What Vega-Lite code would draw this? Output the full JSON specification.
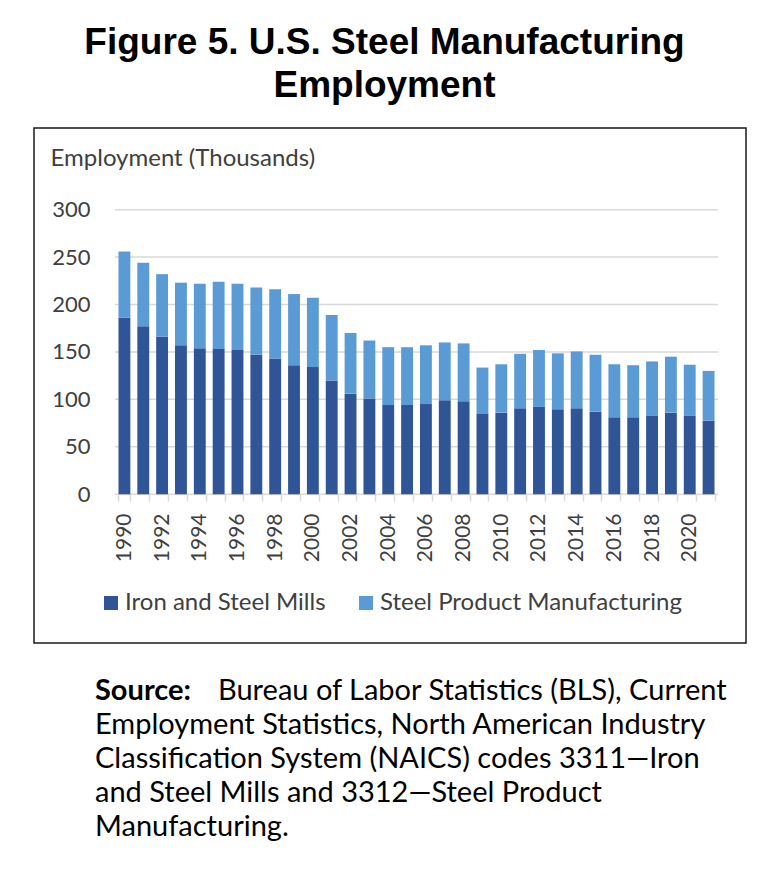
{
  "$schema": "https://vega.github.io/schema/vega-lite/v6.json",
  "padding": {"left": 22, "top": 24, "right": 10, "bottom": 10},
  "background": "white",
  "title": {"text": ["Figure 5. U.S. Steel Manufacturing", "Employment"], "font": "Liberation Sans", "fontSize": 37, "fontWeight": "bold", "color": "black", "lineHeight": 43, "anchor": "middle", "offset": 22},
  "config": {"view": {"stroke": null}, "font": "Lato"},
  "spacing": 30,
  "datasets": {
    "emp": [
      {"year": 1990, "series": "Iron and Steel Mills", "value": 186}, {"year": 1990, "series": "Steel Product Manufacturing", "value": 70},
      {"year": 1991, "series": "Iron and Steel Mills", "value": 177}, {"year": 1991, "series": "Steel Product Manufacturing", "value": 67},
      {"year": 1992, "series": "Iron and Steel Mills", "value": 166}, {"year": 1992, "series": "Steel Product Manufacturing", "value": 66},
      {"year": 1993, "series": "Iron and Steel Mills", "value": 157}, {"year": 1993, "series": "Steel Product Manufacturing", "value": 66},
      {"year": 1994, "series": "Iron and Steel Mills", "value": 154}, {"year": 1994, "series": "Steel Product Manufacturing", "value": 68},
      {"year": 1995, "series": "Iron and Steel Mills", "value": 153}, {"year": 1995, "series": "Steel Product Manufacturing", "value": 71},
      {"year": 1996, "series": "Iron and Steel Mills", "value": 152}, {"year": 1996, "series": "Steel Product Manufacturing", "value": 70},
      {"year": 1997, "series": "Iron and Steel Mills", "value": 147}, {"year": 1997, "series": "Steel Product Manufacturing", "value": 71},
      {"year": 1998, "series": "Iron and Steel Mills", "value": 143}, {"year": 1998, "series": "Steel Product Manufacturing", "value": 73},
      {"year": 1999, "series": "Iron and Steel Mills", "value": 136}, {"year": 1999, "series": "Steel Product Manufacturing", "value": 75},
      {"year": 2000, "series": "Iron and Steel Mills", "value": 134}, {"year": 2000, "series": "Steel Product Manufacturing", "value": 73},
      {"year": 2001, "series": "Iron and Steel Mills", "value": 120}, {"year": 2001, "series": "Steel Product Manufacturing", "value": 69},
      {"year": 2002, "series": "Iron and Steel Mills", "value": 106}, {"year": 2002, "series": "Steel Product Manufacturing", "value": 64},
      {"year": 2003, "series": "Iron and Steel Mills", "value": 101}, {"year": 2003, "series": "Steel Product Manufacturing", "value": 61},
      {"year": 2004, "series": "Iron and Steel Mills", "value": 94}, {"year": 2004, "series": "Steel Product Manufacturing", "value": 61},
      {"year": 2005, "series": "Iron and Steel Mills", "value": 94}, {"year": 2005, "series": "Steel Product Manufacturing", "value": 61},
      {"year": 2006, "series": "Iron and Steel Mills", "value": 95}, {"year": 2006, "series": "Steel Product Manufacturing", "value": 62},
      {"year": 2007, "series": "Iron and Steel Mills", "value": 99}, {"year": 2007, "series": "Steel Product Manufacturing", "value": 61},
      {"year": 2008, "series": "Iron and Steel Mills", "value": 98}, {"year": 2008, "series": "Steel Product Manufacturing", "value": 61},
      {"year": 2009, "series": "Iron and Steel Mills", "value": 84.5}, {"year": 2009, "series": "Steel Product Manufacturing", "value": 49},
      {"year": 2010, "series": "Iron and Steel Mills", "value": 86}, {"year": 2010, "series": "Steel Product Manufacturing", "value": 51},
      {"year": 2011, "series": "Iron and Steel Mills", "value": 90.5}, {"year": 2011, "series": "Steel Product Manufacturing", "value": 57.5},
      {"year": 2012, "series": "Iron and Steel Mills", "value": 92}, {"year": 2012, "series": "Steel Product Manufacturing", "value": 60},
      {"year": 2013, "series": "Iron and Steel Mills", "value": 89.5}, {"year": 2013, "series": "Steel Product Manufacturing", "value": 59},
      {"year": 2014, "series": "Iron and Steel Mills", "value": 90.5}, {"year": 2014, "series": "Steel Product Manufacturing", "value": 60},
      {"year": 2015, "series": "Iron and Steel Mills", "value": 87}, {"year": 2015, "series": "Steel Product Manufacturing", "value": 60},
      {"year": 2016, "series": "Iron and Steel Mills", "value": 81}, {"year": 2016, "series": "Steel Product Manufacturing", "value": 56},
      {"year": 2017, "series": "Iron and Steel Mills", "value": 81}, {"year": 2017, "series": "Steel Product Manufacturing", "value": 55},
      {"year": 2018, "series": "Iron and Steel Mills", "value": 82.5}, {"year": 2018, "series": "Steel Product Manufacturing", "value": 57.5},
      {"year": 2019, "series": "Iron and Steel Mills", "value": 86}, {"year": 2019, "series": "Steel Product Manufacturing", "value": 59},
      {"year": 2020, "series": "Iron and Steel Mills", "value": 82.5}, {"year": 2020, "series": "Steel Product Manufacturing", "value": 54},
      {"year": 2021, "series": "Iron and Steel Mills", "value": 77.5}, {"year": 2021, "series": "Steel Product Manufacturing", "value": 52.5}
    ],
    "grid": [{"v": 0}, {"v": 50}, {"v": 100}, {"v": 150}, {"v": 200}, {"v": 250}, {"v": 300}],
    "source": [
      {"line": 1, "part": "label", "text": "Source:"},
      {"line": 1, "part": "first", "text": "Bureau of Labor Statistics (BLS), Current"},
      {"line": 2, "part": "body", "text": "Employment Statistics, North American Industry"},
      {"line": 3, "part": "body", "text": "Classification System (NAICS) codes 3311\u2014Iron"},
      {"line": 4, "part": "body", "text": "and Steel Mills and 3312\u2014Steel Product"},
      {"line": 5, "part": "body", "text": "Manufacturing."}
    ]
  },
  "vconcat": [
    {
      "width": 712,
      "height": 515,
      "view": {"stroke": "#1a1a1a", "strokeWidth": 1.5},
      "layer": [
        {
          "data": {"name": "grid"},
          "mark": {"type": "rule", "color": "#d9d9d9", "strokeWidth": 1.5},
          "encoding": {
            "y": {
              "field": "v", "type": "quantitative",
              "scale": {"domain": [-156.9, 386.1], "nice": false, "zero": false},
              "axis": {
                "values": [0, 50, 100, 150, 200, 250, 300], "grid": false, "ticks": false, "domain": false,
                "offset": -56, "labelPadding": 0, "labelFontSize": 22, "labelColor": "#404040", "labelFont": "Lato",
                "title": "Employment (Thousands)", "titleAngle": 0, "titleAlign": "left", "titleBaseline": "middle",
                "titleX": -40, "titleY": 30, "titleFontSize": 24, "titleFontWeight": "normal", "titleColor": "#404040", "titleFont": "Lato"
              }
            },
            "x": {"datum": 1990, "type": "ordinal", "bandPosition": -0.3},
            "x2": {"datum": 2021, "bandPosition": 1.3}
          }
        },
        {
          "data": {"name": "emp"},
          "mark": {"type": "bar"},
          "encoding": {
            "x": {
              "field": "year", "type": "ordinal",
              "scale": {"type": "band", "range": [81, 684], "paddingInner": 0.37, "paddingOuter": 0.185},
              "axis": {
                "orient": "bottom", "offset": -149, "domain": false, "ticks": true, "tickBand": "extent",
                "tickSize": 7, "tickColor": "#d9d9d9", "tickWidth": 1.5,
                "labelAngle": -90, "labelAlign": "right", "labelBaseline": "middle", "labelPadding": 12,
                "labelFontSize": 21, "labelColor": "#404040", "labelFont": "Lato", "labelOverlap": false,
                "labelExpr": "datum.value % 2 == 0 ? datum.label : ''", "title": null
              }
            },
            "y": {
              "field": "value", "type": "quantitative", "stack": "zero",
              "scale": {"domain": [-156.9, 386.1], "nice": false, "zero": false},
              "axis": {
                "values": [0, 50, 100, 150, 200, 250, 300], "grid": false, "ticks": false, "domain": false,
                "offset": -56, "labelPadding": 0, "labelFontSize": 22, "labelColor": "#404040", "labelFont": "Lato",
                "title": "Employment (Thousands)", "titleAngle": 0, "titleAlign": "left", "titleBaseline": "middle",
                "titleX": -40, "titleY": 30, "titleFontSize": 24, "titleFontWeight": "normal", "titleColor": "#404040", "titleFont": "Lato"
              }
            },
            "order": {"field": "series", "sort": "ascending"},
            "color": {
              "field": "series", "type": "nominal",
              "scale": {"domain": ["Iron and Steel Mills", "Steel Product Manufacturing"], "range": ["#2F5597", "#5B9BD5"]},
              "legend": {
                "orient": "none", "legendX": 65, "legendY": 463, "direction": "horizontal", "title": null,
                "symbolType": "square", "symbolSize": 196, "symbolStrokeWidth": 0, "labelFontSize": 24,
                "labelColor": "#404040", "labelFont": "Lato", "labelLimit": 0, "columnPadding": 28, "padding": 0, "labelOffset": 2
              }
            }
          }
        }
      ]
    },
    {
      "width": 712,
      "height": 170,
      "data": {"name": "source"},
      "layer": [
        {
          "transform": [{"filter": "datum.part == 'label'"}],
          "mark": {"type": "text", "align": "left", "baseline": "middle", "dx": -295, "font": "Lato", "fontSize": 29, "fontWeight": "bold", "color": "black"},
          "encoding": {
            "y": {"field": "line", "type": "ordinal", "axis": null, "scale": {"type": "point", "domain": [1, 2, 3, 4, 5], "padding": 0.5}},
            "text": {"field": "text"}
          }
        },
        {
          "transform": [{"filter": "datum.part == 'first'"}],
          "mark": {"type": "text", "align": "left", "baseline": "middle", "dx": -172, "font": "Lato", "fontSize": 29, "color": "black"},
          "encoding": {
            "y": {"field": "line", "type": "ordinal", "axis": null, "scale": {"type": "point", "domain": [1, 2, 3, 4, 5], "padding": 0.5}},
            "text": {"field": "text"}
          }
        },
        {
          "transform": [{"filter": "datum.part == 'body'"}],
          "mark": {"type": "text", "align": "left", "baseline": "middle", "dx": -295, "font": "Lato", "fontSize": 29, "color": "black"},
          "encoding": {
            "y": {"field": "line", "type": "ordinal", "axis": null, "scale": {"type": "point", "domain": [1, 2, 3, 4, 5], "padding": 0.5}},
            "text": {"field": "text"}
          }
        }
      ]
    }
  ]
}
